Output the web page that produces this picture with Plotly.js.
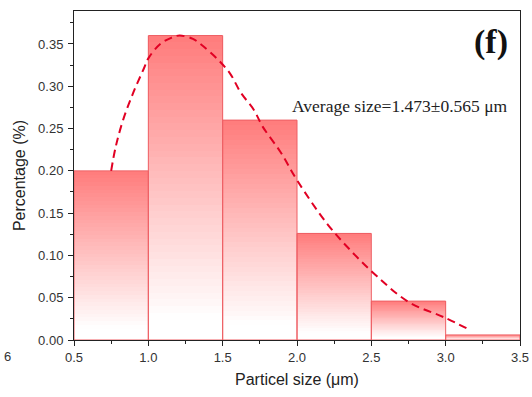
<!DOCTYPE html>
<html>
<head>
<meta charset="utf-8">
<script src="https://cdn.plot.ly/plotly-3.0.1.min.js"></script>
<style>html,body{margin:0;padding:0;background:#fff;}#chart{width:532px;height:397px;}</style>
</head>
<body>
<div id="chart"></div>
<script>
// Histogram bins (left edges, width) and percentages
const binStart = [0.5, 1.0, 1.5, 2.0, 2.5, 3.0];
const binWidth = 0.5;
const percentage = [0.200, 0.360, 0.260, 0.126, 0.046, 0.006];

// Fitted distribution curve (dashed)
const fitX = [0.75, 0.78, 0.83, 0.90, 0.97, 1.00, 1.08, 1.15, 1.21, 1.30, 1.35, 1.46, 1.55, 1.62, 1.71, 1.77, 1.89, 2.00, 2.20, 2.36, 2.54, 2.75, 3.00, 3.15];
const fitY = [0.200, 0.228, 0.260, 0.293, 0.321, 0.333, 0.350, 0.357, 0.360, 0.356, 0.350, 0.333, 0.315, 0.293, 0.272, 0.252, 0.222, 0.189, 0.138, 0.106, 0.075, 0.045, 0.026, 0.013];

const xTickVals = [0.5, 1.0, 1.5, 2.0, 2.5, 3.0, 3.5];
const yTickVals = [0.00, 0.05, 0.10, 0.15, 0.20, 0.25, 0.30, 0.35];

const centers = binStart.map(s => s + binWidth / 2);
const traces = [];
const N = 45;
const topColor = [255, 125, 125];
for (let k = 0; k < N; k++) {
  const frac = (N - k) / N;           // fraction of bar height
  let t = k / N;                       // 0 at top, 1 at bottom
  t = Math.min(1, t / 0.92);
  const c = topColor.map(v => Math.round(v + (255 - v) * t));
  traces.push({
    type: 'bar', x: centers, y: percentage.map(v => v * frac), width: binWidth,
    marker: {color: `rgb(${c[0]},${c[1]},${c[2]})`, line: {width: 0}},
    hoverinfo: 'skip', showlegend: false
  });
}
traces.push({
  type: 'bar', x: centers, y: percentage, width: binWidth,
  marker: {color: 'rgba(0,0,0,0)', line: {color: 'rgb(238,95,100)', width: 1}},
  showlegend: false
});
traces.push({
  type: 'scatter', mode: 'lines', x: fitX, y: fitY,
  line: {color: 'rgb(225,0,35)', width: 2, dash: '8px,5px', shape: 'spline'},
  showlegend: false
});

const sans = 'Liberation Sans, Arial, sans-serif';
const serif = 'Liberation Serif, Times New Roman, serif';
const layout = {
  width: 532, height: 397,
  margin: {l: 74, r: 12, t: 11, b: 57},
  paper_bgcolor: '#fff', plot_bgcolor: '#fff',
  barmode: 'overlay', bargap: 0,
  font: {family: sans, size: 13, color: '#333'},
  xaxis: {
    range: [0.5, 3.5], tickvals: xTickVals, ticktext: xTickVals.map(v => v.toFixed(1)),
    ticks: 'outside', ticklen: 5, tickcolor: '#222', showgrid: false, zeroline: false,
    showline: true, linecolor: '#222', linewidth: 1, mirror: true,
    tickfont: {family: sans, size: 13, color: '#333'},
    minor: {dtick: 0.25, tick0: 0.5, ticks: 'outside', ticklen: 3, tickcolor: '#222', showgrid: false},
    title: {text: 'Particel size (μm)', font: {family: sans, size: 16, color: '#222'}, standoff: 10}
  },
  yaxis: {
    range: [0, 0.389], tickvals: yTickVals, ticktext: yTickVals.map(v => v.toFixed(2)),
    ticks: 'outside', ticklen: 5, tickcolor: '#222', showgrid: false, zeroline: false,
    showline: true, linecolor: '#222', linewidth: 1, mirror: true,
    tickfont: {family: sans, size: 13, color: '#333'}, ticklabelstandoff: 2,
    minor: {dtick: 0.025, tick0: 0, ticks: 'outside', ticklen: 3, tickcolor: '#222', showgrid: false},
    title: {text: 'Percentage (%)', font: {family: sans, size: 16, color: '#222'}, standoff: 8}
  },
  annotations: [
    {xref: 'paper', yref: 'paper', x: 0.978, y: 0.905, xanchor: 'right', yanchor: 'middle', showarrow: false,
     text: '<b>(f)</b>', font: {family: serif, size: 34, color: '#111'}},
    {xref: 'paper', yref: 'paper', x: 0.978, y: 0.712, xanchor: 'right', yanchor: 'middle', showarrow: false,
     text: 'Average size=1.473±0.565 μm', font: {family: serif, size: 17.5, color: '#222'}},
    {xref: 'paper', yref: 'paper', x: -0.148, y: -0.05, xanchor: 'center', yanchor: 'middle', showarrow: false,
     text: '6', font: {family: sans, size: 13, color: '#333'}}
  ]
};
Plotly.newPlot('chart', traces, layout, {displayModeBar: false, staticPlot: true});
</script>
</body>
</html>
